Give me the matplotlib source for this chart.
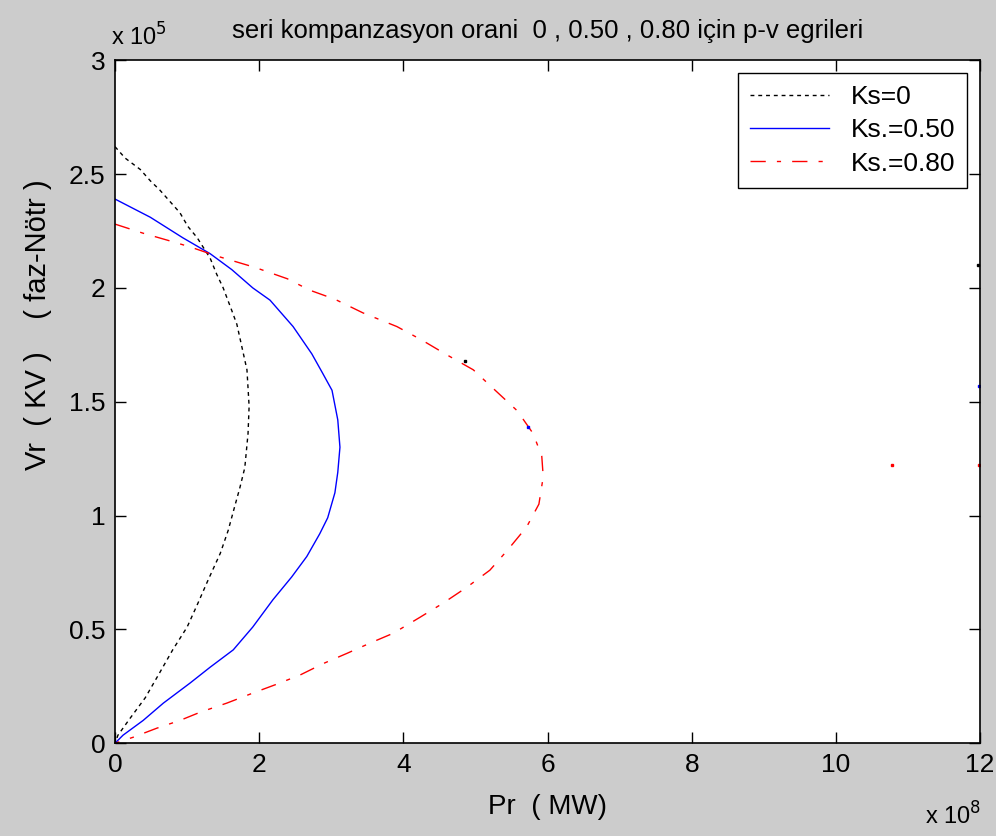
import matplotlib.pyplot as plt
from matplotlib.ticker import FuncFormatter

plt.rcParams['font.family'] = ['Liberation Sans', 'DejaVu Sans']

# p-v curves (Pr in W, Vr in V)
p_ks0 = [0, 0.14e8, 0.35e8, 0.49e8, 0.62e8, 0.76e8, 0.90e8, 1.01e8, 1.14e8, 1.32e8,
         1.41e8, 1.50e8, 1.62e8, 1.69e8, 1.76e8, 1.83e8, 1.86e8, 1.845e8, 1.80e8,
         1.73e8, 1.66e8, 1.57e8, 1.46e8, 1.29e8, 1.15e8, 1.00e8, 0.80e8, 0.62e8,
         0.42e8, 0.21e8, 0.04e8, 0]
v_ks0 = [2.62e5, 2.57e5, 2.52e5, 2.47e5, 2.43e5, 2.38e5, 2.33e5, 2.27e5, 2.22e5, 2.13e5,
         2.06e5, 2.00e5, 1.90e5, 1.84e5, 1.74e5, 1.64e5, 1.48e5, 1.36e5, 1.21e5,
         1.12e5, 1.04e5, 0.935e5, 0.834e5, 0.716e5, 0.615e5, 0.51e5, 0.41e5, 0.31e5,
         0.20e5, 0.11e5, 0.035e5, 0]

p_ks50 = [0, 0.49e8, 0.94e8, 1.32e8, 1.62e8, 1.91e8, 2.15e8, 2.47e8, 2.73e8, 2.88e8,
          3.01e8, 3.09e8, 3.12e8, 3.09e8, 3.05e8, 2.95e8, 2.84e8, 2.66e8, 2.45e8,
          2.19e8, 1.91e8, 1.64e8, 1.32e8, 1.04e8, 0.67e8, 0.39e8, 0.11e8, 0]
v_ks50 = [2.39e5, 2.31e5, 2.22e5, 2.15e5, 2.08e5, 2.00e5, 1.946e5, 1.83e5, 1.71e5, 1.625e5,
          1.55e5, 1.42e5, 1.30e5, 1.19e5, 1.10e5, 0.99e5, 0.92e5, 0.82e5, 0.73e5,
          0.63e5, 0.51e5, 0.41e5, 0.334e5, 0.264e5, 0.176e5, 0.10e5, 0.035e5, 0]

p_ks80 = [0, 0.39e8, 0.72e8, 1.04e8, 1.41e8, 1.94e8, 2.39e8, 2.70e8, 3.05e8, 3.44e8,
          3.91e8, 4.26e8, 4.58e8, 4.97e8, 5.24e8, 5.58e8, 5.80e8, 5.92e8, 5.94e8,
          5.88e8, 5.71e8, 5.45e8, 5.20e8, 4.88e8, 4.55e8, 4.23e8, 3.86e8, 3.54e8,
          3.22e8, 2.89e8, 2.57e8, 2.25e8, 1.91e8, 1.55e8, 1.18e8, 0.90e8, 0.58e8,
          0.25e8, 0]
v_ks80 = [2.28e5, 2.24e5, 2.21e5, 2.18e5, 2.14e5, 2.09e5, 2.04e5, 1.99e5, 1.95e5, 1.89e5,
          1.83e5, 1.77e5, 1.71e5, 1.64e5, 1.56e5, 1.46e5, 1.36e5, 1.26e5, 1.17e5,
          1.05e5, 0.95e5, 0.85e5, 0.76e5, 0.685e5, 0.615e5, 0.553e5, 0.483e5, 0.44e5,
          0.395e5, 0.35e5, 0.30e5, 0.26e5, 0.22e5, 0.176e5, 0.136e5, 0.10e5, 0.066e5,
          0.026e5, 0]

# isolated stray points visible on the plot
stray_black = ([4.85e8, 11.97e8], [1.68e5, 2.10e5])
stray_blue = ([5.73e8, 11.98e8], [1.39e5, 1.57e5])
stray_red = ([10.78e8, 11.98e8], [1.22e5, 1.22e5])

fig = plt.figure(figsize=(9.96, 8.36), dpi=100, facecolor='#cccccc')
ax = fig.add_axes([0.1155, 0.111, 0.8685, 0.817])
ax.set_facecolor('white')

ax.plot(p_ks0, v_ks0, color='black', lw=1.0, dashes=(2.8, 2.8), label='Ks=0')
ax.plot(p_ks50, v_ks50, color='blue', lw=1.0, label='Ks.=0.50')
ax.plot(p_ks80, v_ks80, color='red', lw=1.0, dashes=(11, 8, 3, 8), label='Ks.=0.80')
ax.plot(*stray_black, 's', color='black', ms=1.5, ls='none')
ax.plot(*stray_blue, 's', color='blue', ms=1.5, ls='none')
ax.plot(*stray_red, 's', color='red', ms=1.5, ls='none')

ax.set_xlim(0, 12e8)
ax.set_ylim(0, 3e5)
ax.set_xticks([i * 2e8 for i in range(7)])
ax.set_yticks([i * 0.5e5 for i in range(7)])
ax.xaxis.set_major_formatter(FuncFormatter(lambda v, p: '%g' % (v / 1e8)))
ax.yaxis.set_major_formatter(FuncFormatter(lambda v, p: '%g' % (v / 1e5)))
ax.tick_params(direction='in', length=8, width=1, top=True, right=True,
               labelsize=19, pad=7, colors='black')
for s in ax.spines.values():
    s.set_linewidth(1.2)

ax.set_title('seri kompanzasyon orani  0 , 0.50 , 0.80 için p-v egrileri', fontsize=18.5, pad=16)
ax.set_xlabel('Pr  ( MW)', fontsize=20, labelpad=12)
ax.set_ylabel('Vr  ( KV )    ( faz-Nötr )', fontsize=21)
ax.yaxis.set_label_coords(-0.073, 0.613)
fig.text(0.111, 0.94, r'x 10$^5$', fontsize=17, ha='left', va='bottom')
fig.text(0.929, 0.008, r'x 10$^8$', fontsize=17, ha='left', va='bottom')

leg = ax.legend(loc='upper right', fontsize=19, fancybox=False, framealpha=1,
                edgecolor='black', borderaxespad=0.5, handlelength=3.0,
                labelspacing=0.35, borderpad=0.45)
leg.get_frame().set_linewidth(1.0)

fig.savefig('out.png', dpi=100, facecolor=fig.get_facecolor())
